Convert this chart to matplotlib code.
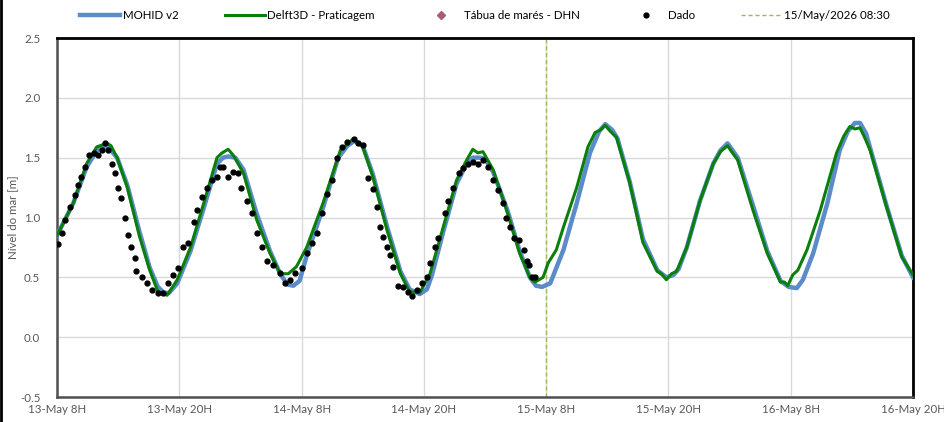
import matplotlib
matplotlib.use("Agg")
import matplotlib.pyplot as plt
from matplotlib.lines import Line2D

plt.rcParams['font.family'] = ['Lato', 'DejaVu Sans']

# hours since 13-May 08:00
mohid_t = [0, 1.6, 2.9, 3.9, 4.9, 5.9, 6.9, 8.1, 9.1, 9.9, 10.5, 11.0, 11.8, 13.1, 14.4,
           15.7, 16.3, 16.8, 17.5, 18.3, 19.6, 20.9, 21.9, 22.6, 23.2, 23.8, 24.5, 26.1,
           27.6, 28.5, 29.2, 30.0, 31.0, 32.4, 33.7, 34.6, 35.6, 36.3, 36.8, 37.9, 39.2,
           40.2, 40.8, 41.5, 42.0, 42.8, 44.2, 45.4, 46.4, 47.0, 47.6, 48.4, 49.7, 51.0,
           52.3, 53.2, 53.8, 54.5, 55.0, 56.2, 57.5, 58.9, 59.8, 60.5, 61.0, 61.8, 63.1,
           64.4, 65.1, 65.8, 66.8, 68.3, 69.7, 71.0, 71.8, 72.6, 73.2, 74.2, 75.6, 76.8,
           77.6, 78.3, 78.8, 79.4, 79.8, 81.4, 82.9, 84.0]
mohid_v = [0.85, 1.12, 1.42, 1.56, 1.60, 1.50, 1.27, 0.88, 0.58, 0.42, 0.37, 0.37, 0.45, 0.72, 1.08,
           1.45, 1.50, 1.51, 1.50, 1.40, 1.03, 0.72, 0.53, 0.44, 0.43, 0.47, 0.68, 1.08,
           1.50, 1.60, 1.64, 1.60, 1.36, 0.92, 0.55, 0.40, 0.36, 0.40, 0.52, 0.88, 1.28,
           1.45, 1.50, 1.50, 1.49, 1.38, 1.06, 0.72, 0.50, 0.43, 0.42, 0.45, 0.73, 1.12,
           1.54, 1.72, 1.78, 1.73, 1.66, 1.30, 0.82, 0.56, 0.50, 0.52, 0.57, 0.75, 1.14,
           1.45, 1.56, 1.62, 1.50, 1.10, 0.72, 0.47, 0.42, 0.41, 0.48, 0.70, 1.12, 1.56,
           1.72, 1.79, 1.79, 1.70, 1.58, 1.10, 0.68, 0.50]

delft_t = [0, 1.6, 2.9, 3.9, 4.9, 5.3, 5.9, 6.9, 8.1, 9.1, 9.9, 10.8, 11.8, 13.1, 14.4,
           15.7, 16.2, 16.8, 17.3, 18.3, 19.6, 20.9, 21.9, 22.7, 23.5, 24.5, 26.1, 27.8,
           29.1, 30.0, 31.0, 32.4, 33.7, 34.6, 35.6, 36.6, 37.9, 39.2, 40.2, 40.8, 41.3,
           41.8, 42.8, 44.2, 45.4, 46.4, 46.9, 47.7, 48.2, 49.0, 49.7, 51.0, 52.1, 52.8,
           53.3, 53.8, 54.3, 54.9, 56.2, 57.5, 58.9, 59.3, 59.8, 60.3, 60.8, 61.8, 63.1,
           64.4, 65.1, 65.8, 66.2, 66.8, 68.3, 69.7, 71.0, 71.4, 71.7, 72.2, 72.7, 73.6,
           74.9, 76.5, 77.2, 77.8, 78.3, 78.8, 79.3, 79.8, 81.4, 82.9, 84.0]
delft_v = [0.85, 1.12, 1.45, 1.59, 1.62, 1.60, 1.50, 1.25, 0.84, 0.56, 0.38, 0.35, 0.48, 0.75, 1.12,
           1.50, 1.54, 1.57, 1.52, 1.37, 0.98, 0.70, 0.53, 0.53, 0.59, 0.75, 1.12, 1.56,
           1.66, 1.59, 1.34, 0.89, 0.53, 0.38, 0.37, 0.53, 0.92, 1.31, 1.48, 1.57, 1.54,
           1.55, 1.40, 1.04, 0.70, 0.50, 0.46, 0.50, 0.62, 0.73, 0.92, 1.25, 1.59, 1.71,
           1.73, 1.77, 1.72, 1.67, 1.29, 0.79, 0.55, 0.53, 0.48, 0.53, 0.55, 0.75, 1.14,
           1.45, 1.55, 1.60, 1.55, 1.48, 1.06, 0.70, 0.46, 0.46, 0.43, 0.52, 0.56, 0.73,
           1.06, 1.54, 1.68, 1.76, 1.74, 1.75, 1.66, 1.56, 1.09, 0.67, 0.52]

dado_t = [0.1, 0.5, 0.8, 1.3, 1.8, 2.1, 2.4, 2.7, 3.1, 3.6, 4.0, 4.4, 4.7, 5.0, 5.4, 5.7,
          6.0, 6.3, 6.7, 7.0, 7.3, 7.7, 7.8, 8.3, 8.8, 9.3, 9.9, 10.4, 10.9, 11.4, 11.9,
          12.4, 12.9, 13.4, 13.7, 14.2, 14.7, 15.2, 15.7, 16.0, 16.3, 16.8, 17.3, 17.8,
          18.1, 18.6, 19.1, 19.6, 20.1, 20.6, 21.2, 21.9, 22.4, 22.9, 23.4, 24.0, 24.5,
          25.0, 25.5, 26.0, 26.5, 27.0, 27.5, 28.0, 28.5, 29.1, 29.5, 30.0, 30.5, 31.0,
          31.4, 31.7, 32.0, 32.4, 32.7, 33.0, 33.5, 34.0, 34.4, 34.8, 35.3, 35.8, 36.3,
          36.6, 37.1, 37.4, 38.1, 38.4, 38.9, 39.4, 39.8, 40.3, 40.8, 41.3, 41.8, 42.3,
          42.8, 43.3, 43.8, 44.1, 44.5, 44.8, 45.3, 45.8, 46.1, 46.3, 46.6, 46.9]
dado_v = [0.78, 0.87, 0.98, 1.09, 1.19, 1.27, 1.34, 1.42, 1.52, 1.54, 1.52, 1.56, 1.62, 1.56, 1.45, 1.37,
          1.25, 1.16, 1.00, 0.85, 0.75, 0.66, 0.55, 0.50, 0.45, 0.39, 0.37, 0.37, 0.45, 0.52, 0.58,
          0.75, 0.79, 0.96, 1.06, 1.17, 1.25, 1.31, 1.34, 1.42, 1.42, 1.34, 1.38, 1.37,
          1.25, 1.14, 1.04, 0.87, 0.75, 0.64, 0.60, 0.54, 0.45, 0.48, 0.54, 0.58, 0.70,
          0.79, 0.87, 1.04, 1.20, 1.31, 1.50, 1.59, 1.63, 1.66, 1.62, 1.61, 1.33, 1.24,
          1.09, 0.92, 0.84, 0.75, 0.69, 0.59, 0.43, 0.42, 0.38, 0.34, 0.39, 0.45, 0.50,
          0.62, 0.75, 0.83, 1.04, 1.14, 1.25, 1.37, 1.41, 1.45, 1.46, 1.45, 1.48, 1.42,
          1.31, 1.23, 1.12, 1.00, 0.92, 0.83, 0.81, 0.73, 0.64, 0.60, 0.50, 0.50]

# tide table (no points shown in this window)
tabua_t = []
tabua_v = []

tick_hours = [0, 12, 24, 36, 48, 60, 72, 84]
tick_labels = ['13-May 8H', '13-May 20H', '14-May 8H', '14-May 20H',
               '15-May 8H', '15-May 20H', '16-May 8H', '16-May 20H']
now_hour = 48

fig = plt.figure(figsize=(9.45, 4.22), dpi=100)
ax = fig.add_axes([57 / 945, 1 - 397 / 422, (913 - 57) / 945, (397 - 38) / 422])

ax.plot(mohid_t, mohid_v, color='#5B8BC9', lw=3.2, label='MOHID v2', zorder=3)
ax.plot(delft_t, delft_v, color='#0B7F0B', lw=2.2, label='Delft3D - Praticagem', zorder=4)
ax.plot(tabua_t, tabua_v, ls='none', marker='D', ms=4, color='#A4606E',
        label='Tábua de marés - DHN')
ax.plot(dado_t, dado_v, ls='none', marker='o', ms=3.5, color='black', label='Dado', zorder=5)
ax.axvline(now_hour, color='#9BBB59', lw=1, ls=(0, (3, 2)), label='15/May/2026 08:30', zorder=2)

ax.set_xlim(0, 84)
ax.set_ylim(-0.5, 2.5)
ax.set_xticks(tick_hours)
ax.set_xticklabels(tick_labels)
ax.set_yticks([-0.5, 0.0, 0.5, 1.0, 1.5, 2.0, 2.5])
ax.yaxis.set_major_formatter(matplotlib.ticker.FormatStrFormatter('%.1f'))
ax.tick_params(length=0, labelsize=8.3, colors='#595959')
ax.tick_params(axis='y', pad=12)
ax.tick_params(axis='x', pad=5)
ax.grid(True, color='#D9D9D9', lw=1)
ax.set_axisbelow(True)
ax.set_ylabel('Nível do mar [m]', fontsize=8.3, color='#595959', labelpad=1)

for side in ['top', 'right']:
    ax.spines[side].set_color('black')
    ax.spines[side].set_linewidth(2)
for side in ['left', 'bottom']:
    ax.spines[side].set_color('#505050')
    ax.spines[side].set_linewidth(1.8)

ax.legend(loc='lower center', bbox_to_anchor=(0.5, 1.0), ncol=5, frameon=False,
          fontsize=8.3, handlelength=3.5, columnspacing=4.0, handletextpad=0.2,
          borderaxespad=1.1)

fig.add_artist(Line2D([0.001, 0.001], [0, 1], color='black', lw=2, transform=fig.transFigure))

fig.savefig('out.png', dpi=100)
